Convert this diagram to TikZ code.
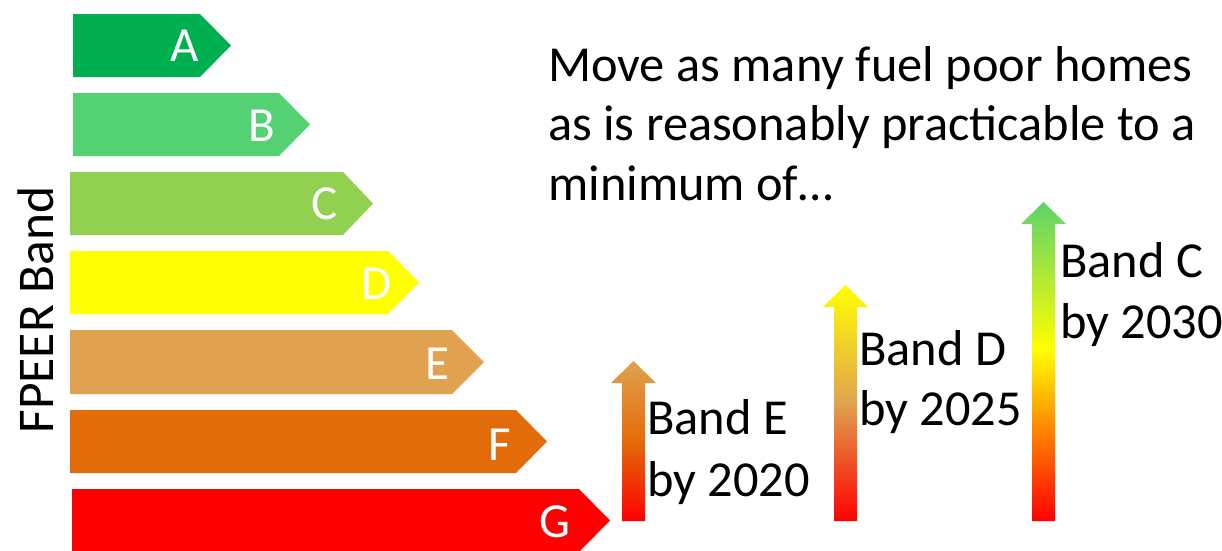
\documentclass[tikz,border=0pt]{standalone}
\usepackage{fontspec}
\setmainfont{Carlito}
\definecolor{bandA}{HTML}{00B050}
\definecolor{bandB}{HTML}{53D173}
\definecolor{bandC}{HTML}{92D050}
\definecolor{bandD}{HTML}{FFFF00}
\definecolor{bandE}{HTML}{E0A24E}
\definecolor{bandF}{HTML}{E36C0A}
\definecolor{bandG}{HTML}{FF0000}
\definecolor{arrGreen}{HTML}{5CD36A}
\definecolor{arrOrange}{HTML}{FF8C00}
\pgfdeclareverticalshading{shadeE}{100bp}{color(0bp)=(bandG); color(25bp)=(bandG); color(50bp)=(bandF); color(75bp)=(bandE); color(100bp)=(bandE)}
\pgfdeclareverticalshading{shadeD}{100bp}{color(0bp)=(bandG); color(25bp)=(bandG); color(50bp)=(bandE); color(75bp)=(bandD); color(100bp)=(bandD)}
\pgfdeclareverticalshading{shadeC}{100bp}{color(0bp)=(bandG); color(25bp)=(bandG); color(40bp)=(arrOrange); color(52bp)=(bandD); color(75bp)=(arrGreen); color(100bp)=(arrGreen)}
\newcommand\bandshape[6]{% left, bodyend, tip, top, bottom, colour
  \fill[#6] (#1,#4) -- (#2,#4) -- (#3,{(#4+#5)/2}) -- (#2,#5) -- (#1,#5) -- cycle;}
\newcommand\gradarrow[4]{% xc, tip, bottom, shading
  \shade[shading=#4] ({#1-11.5},#3) -- ({#1-11.5},{#2+22}) -- ({#1-22.5},{#2+22}) -- (#1,#2)
    -- ({#1+22.5},{#2+22}) -- ({#1+11.5},{#2+22}) -- ({#1+11.5},#3) -- cycle;}
\tikzset{
  bandletter/.style={text=white, inner sep=0pt, font=\fontsize{49}{58}\selectfont},
  bodytext/.style={text=black, inner sep=0pt, anchor=base west, font=\fontsize{50.4}{60}\selectfont},
}
\begin{document}
\begin{tikzpicture}[x=1pt, y=-1pt]
\useasboundingbox[fill=white] (0,0) rectangle (1222,550);
% bands
\bandshape{73}{200}{231}{14}{77}{bandA}
\bandshape{73}{279}{310}{93}{156}{bandB}
\bandshape{70}{343}{373}{172}{235}{bandC}
\bandshape{70}{388}{419}{251}{314}{bandD}
\bandshape{70}{452}{484}{330}{394}{bandE}
\bandshape{70}{516}{547}{410}{473}{bandF}
\bandshape{72}{579}{610}{489}{552}{bandG}
\node[bandletter] (lA) at (185,46) {A};
\node[bandletter] (lB) at (262,126) {B};
\node[bandletter] (lC) at (325,204) {C};
\node[bandletter] (lD) at (377,284) {D};
\node[bandletter] (lE) at (437,364) {E};
\node[bandletter] (lF) at (500,445) {F};
\node[bandletter] (lG) at (555,522) {G};
% axis label
\node[text=black, inner sep=0pt, rotate=90, font=\fontsize{51.5}{60}\selectfont] (axis) at (36,310) {FPEER Band};
% heading text
\node[bodytext] (t1) at (548,81) {Move as many fuel poor homes};
\node[bodytext] (t2) at (548,140) {as is reasonably practicable to a};
\node[bodytext] (t3) at (548,200) {minimum of…};
% arrows
\gradarrow{633.5}{361}{521}{shadeE}
\gradarrow{845.5}{285}{521}{shadeD}
\gradarrow{1043.5}{202}{521}{shadeC}
\node[bodytext] (e1) at (647,434) {Band E};
\node[bodytext] (e2) at (647,496) {by 2020};
\node[bodytext] (d1) at (859,365) {Band D};
\node[bodytext] (d2) at (859,425) {by 2025};
\node[bodytext] (c1) at (1060,277) {Band C};
\node[bodytext] (c2) at (1060,338) {by 2030};
\end{tikzpicture}
\end{document}
